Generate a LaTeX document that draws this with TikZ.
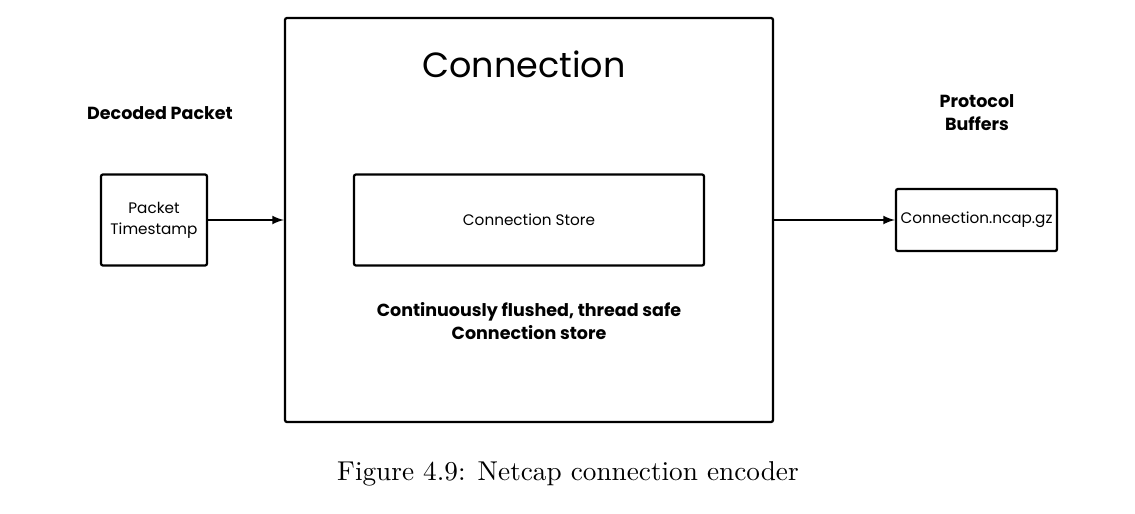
\documentclass[tikz,border=0pt]{standalone}
\usepackage{fontspec}
\newfontfamily\diafont{Poppins}
\usetikzlibrary{arrows}
\usetikzlibrary{shapes}

\begin{document}
\begin{tikzpicture}[x=0.4pt,y=-0.4pt,>=latex,
	box/.style={draw,line width=0.9pt,rounded corners=0.8pt,inner sep=0pt},
	txt/.style={font=\diafont\fontsize{6.1}{8.4}\selectfont,align=center},
	btxt/.style={font=\diafont\bfseries\fontsize{7}{9.2}\selectfont,align=center},
	link/.style={->,line width=0.6pt}]
	 \useasboundingbox (0,0) rectangle (1135,514);
	 %
	 \node (conn) at (529,220) [box,minimum width=195.2pt,minimum height=161.6pt] {};
	 %
	 \node (title) at (524,64) [font=\diafont\fontsize{14}{17}\selectfont] {Connection};
	 %
	 \node (store) at (529,220) [box,minimum width=140pt,minimum height=36.4pt,txt] {Connection Store};
	 %
	 \node (note) at (529,321) [btxt] {Continuously flushed, thread safe\\Connection store};
	 %
	 \node (decoded) at (160,113) [btxt] {Decoded Packet};
	 %
	 \node (stamp) at (154,220) [box,minimum width=42.4pt,minimum height=36.4pt,txt] {Packet\\Timestamp};
	 %
	 \node (proto) at (977,112.5) [btxt] {Protocol\\Buffers};
	 %
	 \node (ncap) at (976.5,220) [box,minimum width=64.4pt,minimum height=24.8pt,txt] {Connection.ncap.gz};
	 %
	 \node (caption) at (568,474) [font=\fontsize{10.9}{13}\selectfont] {Figure 4.9: Netcap connection encoder};
	 %
	 %Timestamp-Connection
	 \draw[link] (stamp) -- (conn);
	 %
	 %Connection-ncap
	 \draw[link] (conn) -- (ncap);
\end{tikzpicture}
\end{document}
